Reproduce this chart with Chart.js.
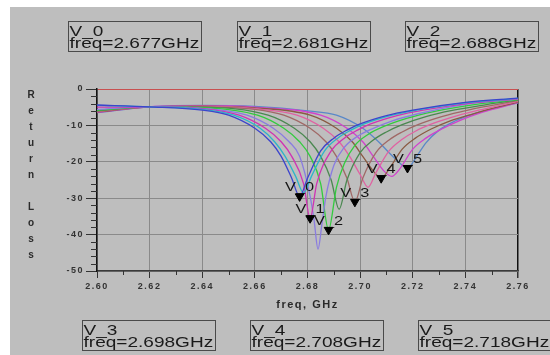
<!DOCTYPE html>
<html>
<head>
<meta charset="utf-8">
<script src="https://cdn.jsdelivr.net/npm/chart.js@4.4.1/dist/chart.umd.min.js"></script>
<style>
  html, body { margin: 0; padding: 0; background: #fff; }
  canvas { display: block; }
</style>
</head>
<body>
<canvas id="chart" width="550" height="355"></canvas>
<script>
// return loss sweep (freq in GHz, loss in dB)
const curveColors = ['#3c44cc', '#2cb6c8', '#d032b4', '#8a7ce0', '#32cc3e', '#4a8850',
                     '#a06866', '#e062a2', '#8a5a42', '#d042cc', '#5a88c8'];

const curveFreqs = [
  [2.600, 2.620, 2.640, 2.650, 2.660, 2.666, 2.670, 2.674, 2.677, 2.680, 2.685, 2.690, 2.695, 2.700, 2.710, 2.720, 2.740, 2.760],
  [2.600, 2.620, 2.640, 2.652, 2.662, 2.6675, 2.6715, 2.6755, 2.6785, 2.6815, 2.6865, 2.6915, 2.6965, 2.7015, 2.7115, 2.7215, 2.740, 2.760],
  [2.600, 2.620, 2.640, 2.654, 2.664, 2.670, 2.674, 2.6785, 2.681, 2.6835, 2.689, 2.694, 2.699, 2.704, 2.714, 2.724, 2.742, 2.760],
  [2.600, 2.620, 2.640, 2.657, 2.667, 2.673, 2.677, 2.681, 2.6825, 2.684, 2.6855, 2.687, 2.690, 2.694, 2.699, 2.705, 2.712, 2.722, 2.740, 2.760],
  [2.600, 2.620, 2.640, 2.661, 2.671, 2.677, 2.681, 2.685, 2.688, 2.691, 2.694, 2.698, 2.703, 2.709, 2.718, 2.728, 2.744, 2.760],
  [2.600, 2.620, 2.640, 2.665, 2.675, 2.681, 2.685, 2.689, 2.692, 2.695, 2.700, 2.705, 2.710, 2.716, 2.725, 2.735, 2.748, 2.760],
  [2.600, 2.620, 2.640, 2.660, 2.671, 2.681, 2.687, 2.691, 2.695, 2.698, 2.701, 2.706, 2.711, 2.716, 2.722, 2.731, 2.741, 2.760],
  [2.600, 2.620, 2.640, 2.660, 2.676, 2.686, 2.692, 2.696, 2.700, 2.703, 2.706, 2.711, 2.716, 2.721, 2.728, 2.737, 2.747, 2.760],
  [2.600, 2.620, 2.640, 2.660, 2.681, 2.691, 2.697, 2.701, 2.705, 2.708, 2.711, 2.716, 2.721, 2.727, 2.734, 2.743, 2.752, 2.760],
  [2.600, 2.620, 2.640, 2.660, 2.685, 2.695, 2.701, 2.705, 2.709, 2.712, 2.715, 2.720, 2.725, 2.731, 2.738, 2.746, 2.753, 2.760],
  [2.600, 2.620, 2.640, 2.660, 2.680, 2.691, 2.701, 2.707, 2.711, 2.715, 2.718, 2.7215, 2.725, 2.730, 2.736, 2.742, 2.751, 2.760]
];

const curveLoss = [
  [-4.4, -4.9, -5.8, -7.2, -10.8, -14.5, -18.5, -24.5, -29.5, -24.5, -17, -13.5, -11.3, -9.6, -7.3, -5.8, -3.7, -2.5],
  [-4.5, -4.9, -5.6, -7.2, -10.8, -14.5, -18.5, -24, -28.5, -24, -17, -13.5, -11.3, -9.6, -7.3, -5.8, -3.8, -2.6],
  [-5.0, -4.9, -5.4, -7.2, -10.8, -14.5, -18.5, -26, -35.5, -26, -17, -13.5, -11.3, -9.6, -7.3, -5.8, -3.9, -2.7],
  [-5.6, -4.9, -5.3, -7.2, -10.8, -14.5, -18.5, -29.5, -36, -44, -37, -29.5, -21, -16, -13, -10.8, -8.8, -6.8, -4.2, -2.8],
  [-5.8, -4.9, -5.1, -7.2, -10.8, -14.5, -18.5, -26, -38.7, -27, -20.5, -15.5, -12.5, -10.3, -8, -6.2, -4.2, -2.9],
  [-6.0, -4.9, -5.0, -7.2, -10.8, -14.5, -18.5, -25, -33, -25, -17.5, -14, -11.8, -9.8, -7.6, -5.9, -4.3, -3.0],
  [-6.1, -4.9, -4.9, -5.6, -7.2, -10.8, -14.5, -18.5, -24.5, -31, -24.5, -17.5, -14, -11.8, -9.8, -7.6, -5.8, -3.2],
  [-6.2, -4.9, -4.8, -5.4, -7.2, -10.8, -14.5, -18.5, -23.5, -27, -23, -17, -13.8, -11.6, -9.4, -7.3, -5.5, -3.4],
  [-6.3, -4.9, -4.7, -5.2, -7.2, -10.8, -14.5, -18.5, -22.5, -24.5, -22, -16.5, -13.5, -11, -8.8, -6.8, -5.0, -3.6],
  [-6.4, -4.9, -4.6, -5.0, -7.2, -10.8, -14.5, -18.5, -22.5, -24, -22, -16.5, -13.5, -11, -8.6, -6.5, -5.1, -3.7],
  [-6.5, -4.9, -4.5, -4.8, -6.0, -7.2, -10.8, -14.5, -17.5, -20.3, -21.7, -18.5, -14.8, -11.3, -8.8, -7.1, -5.3, -3.8]
];

const markerNames = ['V_0', 'V_1', 'V_2', 'V_3', 'V_4', 'V_5'];
const markerFreqs = [2.677, 2.681, 2.688, 2.698, 2.708, 2.718];
const markerLoss = [-29.5, -35.5, -38.7, -31, -24.5, -21.7];

const xTicks = [2.60, 2.62, 2.64, 2.66, 2.68, 2.70, 2.72, 2.74, 2.76];
const yTicks = [0, -10, -20, -30, -40, -50];

const yTitle = 'Return Loss';
const xTitle = 'freq, GHz';

// readout boxes: top row then bottom row
const boxSpots = [[68, 21], [237, 21], [405, 21], [82, 320], [250, 320], [418, 320]];

const datasets = curveFreqs.map((fs, i) => ({
  data: fs.map((f, j) => ({ x: f, y: curveLoss[i][j] })),
  borderColor: curveColors[i],
  borderWidth: 1.3,
  pointRadius: 0,
  cubicInterpolationMode: 'monotone',
  fill: false,
  order: 1
}));

const markerIdx = datasets.length;
datasets.push({
  data: markerFreqs.map((f, i) => ({ x: f, y: markerLoss[i] })),
  showLine: false,
  pointStyle: 'triangle',
  rotation: 180,
  pointRadius: 5,
  pointBackgroundColor: '#000',
  pointBorderColor: '#000',
  pointBorderWidth: 1,
  order: 0
});

const backdrop = {
  id: 'backdrop',
  beforeDraw(chart) {
    const c = chart.ctx;
    c.save();
    c.fillStyle = '#fff';
    c.fillRect(0, 0, chart.width, chart.height);
    c.fillStyle = '#bebebe';
    c.fillRect(10, 7, chart.width - 10, chart.height - 7);
    c.restore();
    c.letterSpacing = '1.5px'; // wide tick labels like the photo
  },
  beforeDatasetDraw(chart, args) {
    if (args.index !== markerIdx) return;
    const c = chart.ctx;
    const xs = chart.scales.x, ys = chart.scales.y;
    c.save();
    c.letterSpacing = '0px';
    c.font = '12px "Liberation Sans", Arial, sans-serif';
    c.fillStyle = '#151515';
    c.textAlign = 'center';
    c.textBaseline = 'alphabetic';
    markerNames.forEach((n, i) => {
      c.save();
      c.translate(xs.getPixelForValue(markerFreqs[i]), ys.getPixelForValue(markerLoss[i]) - 5);
      c.scale(1.36, 1);
      c.fillText(n, 0, 0);
      c.restore();
    });
    c.restore();
  },
  afterDraw(chart) {
    const c = chart.ctx;
    const xs = chart.scales.x, ys = chart.scales.y;
    const a = chart.chartArea;
    c.save();
    c.letterSpacing = '0px';

    // minor ticks
    c.strokeStyle = '#333';
    c.lineWidth = 1;
    c.beginPath();
    for (let i = 0; i < xTicks.length - 1; i++) {
      const px = Math.round(xs.getPixelForValue((xTicks[i] + xTicks[i + 1]) / 2)) + 0.5;
      c.moveTo(px, a.bottom);
      c.lineTo(px, a.bottom + 4);
    }
    for (let i = 0; i < yTicks.length - 1; i++) {
      for (let k = 1; k < 5; k++) {
        const py = Math.round(ys.getPixelForValue(yTicks[i] - k * 2)) + 0.5;
        c.moveTo(a.left - 6, py);
        c.lineTo(a.left, py);
      }
    }
    c.stroke();

    // y title, letters stacked
    c.font = 'bold 10px "Liberation Sans", Arial, sans-serif';
    c.fillStyle = '#2a2a2a';
    c.textAlign = 'center';
    c.textBaseline = 'middle';
    [...yTitle].forEach((ch, i) => c.fillText(ch, 31, 95 + i * 16));

    // x title
    c.font = 'bold 11px "Liberation Sans", Arial, sans-serif';
    c.letterSpacing = '1.5px';
    c.fillText(xTitle, (a.left + a.right) / 2, 305);
    c.letterSpacing = '0px';

    // marker readout boxes
    c.strokeStyle = '#4a4a4a';
    c.textAlign = 'left';
    c.textBaseline = 'alphabetic';
    c.font = '15px "Liberation Sans", Arial, sans-serif';
    c.fillStyle = '#1a1a1a';
    boxSpots.forEach(([bx, by], i) => {
      c.strokeRect(bx + 0.5, by + 0.5, 133, 30);
      c.save();
      c.translate(bx + 1.5, by);
      c.scale(1.27, 1);
      c.fillText(markerNames[i], 0, 14.5);
      c.fillText('freq=' + markerFreqs[i].toFixed(3) + 'GHz', 0, 26.5);
      c.restore();
    });
    c.restore();
  }
};

new Chart(document.getElementById('chart'), {
  type: 'line',
  data: { datasets: datasets },
  options: {
    responsive: false,
    animation: false,
    events: [],
    layout: { padding: { top: 89, right: 32, left: 0, bottom: 0 } },
    plugins: { legend: { display: false }, tooltip: { enabled: false } },
    scales: {
      x: {
        type: 'linear',
        min: 2.60,
        max: 2.76,
        afterBuildTicks: s => { s.ticks = xTicks.map(v => ({ value: v })); },
        afterFit: s => { s.height = 84; },
        ticks: {
          callback: v => v.toFixed(2),
          color: '#333',
          font: { family: '"Liberation Sans", Arial, sans-serif', size: 9, weight: 'bold' },
          padding: 3,
          maxRotation: 0,
          autoSkip: false
        },
        grid: {
          color: ctx => (ctx.tick && Math.abs(ctx.tick.value - 2.76) < 1e-6) ? '#111' : '#8a8a8a',
          lineWidth: ctx => (ctx.tick && Math.abs(ctx.tick.value - 2.76) < 1e-6) ? 1.5 : 1,
          tickColor: '#333',
          tickLength: 7
        },
        border: { color: '#3a3a3a', width: 1.5 }
      },
      y: {
        type: 'linear',
        min: -50,
        max: 0,
        afterBuildTicks: s => { s.ticks = yTicks.map(v => ({ value: v })); },
        afterFit: s => { s.width = 97; },
        ticks: {
          color: '#333',
          font: { family: '"Liberation Sans", Arial, sans-serif', size: 9, weight: 'bold' },
          padding: 2
        },
        grid: {
          color: ctx => (ctx.tick && ctx.tick.value === 0) ? '#c85050' : '#8a8a8a',
          tickColor: '#333',
          tickLength: 11
        },
        border: { color: '#111', width: 1.5 }
      }
    }
  },
  plugins: [backdrop]
});
</script>
</body>
</html>
